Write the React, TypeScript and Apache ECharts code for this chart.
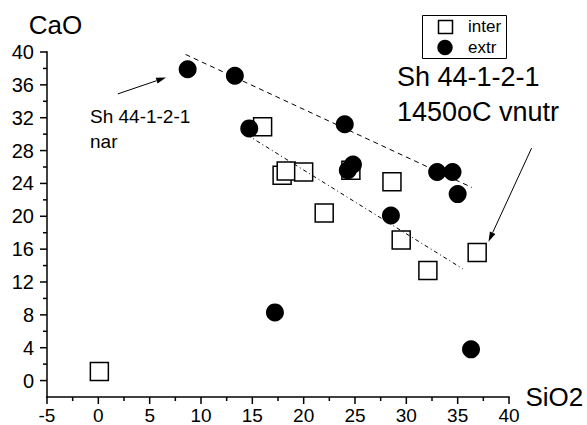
import React, { useEffect, useRef } from "react";
import * as echarts from "echarts";

// ---- data ----
const interPoints: number[][] = [
  [0.1, 1.1], [16.0, 30.9], [17.9, 25.0], [18.3, 25.5], [20.0, 25.4],
  [24.6, 25.6], [22.0, 20.4], [28.6, 24.2], [29.5, 17.1], [32.1, 13.4], [36.9, 15.6],
];
const extrPoints: number[][] = [
  [8.7, 37.9], [13.3, 37.1], [14.7, 30.7], [24.0, 31.2], [24.3, 25.6], [24.8, 26.3],
  [28.5, 20.1], [33.0, 25.4], [34.5, 25.4], [35.0, 22.7], [17.2, 8.3], [36.3, 3.8],
];
const trendUpper: number[][] = [[8.5, 39.7], [36.4, 23.5]];
const trendLower: number[][] = [[14.5, 29.9], [35.5, 13.6]];
const arrowNar: number[][] = [[1.9, 34.9], [6.6, 36.9]];
const arrowVnutr: number[][] = [[42.2, 28.3], [38.0, 16.9]];
const X_MIN = -5;
const X_MAX = 40;
const Y_MIN = -2;
const Y_MAX = 40;
const xMajorTicks = [-5, 0, 5, 10, 15, 20, 25, 30, 35, 40];
const xMinorTicks = [-2.5, 2.5, 7.5, 12.5, 17.5, 22.5, 27.5, 32.5, 37.5];
const yMajorTicks = [0, 4, 8, 12, 16, 20, 24, 28, 32, 36, 40];
const yMinorTicks = [2, 6, 10, 14, 18, 22, 26, 30, 34, 38];
const legendNames = ["inter", "extr"];
const noteNar = "Sh 44-1-2-1\nnar";
const noteVnutr = "Sh 44-1-2-1\n1450oC vnutr";

const FONT = 'Arial, "Liberation Sans", sans-serif';

export default function App() {
  const ref = useRef<HTMLDivElement>(null);
  useEffect(() => {
    if (!ref.current) return;
    const chart = echarts.init(ref.current, undefined, { renderer: "svg" });
    chart.setOption({
      animation: false,
      grid: { left: 47, right: 78, top: 52, bottom: 28, containLabel: false, outerBoundsMode: "none" },
      xAxis: {
        type: "value",
        min: X_MIN,
        max: X_MAX,
        interval: 5,
        name: "SiO2",
        nameLocation: "end",
        nameGap: 16,
        nameTextStyle: { fontSize: 26, color: "#000", fontFamily: FONT, padding: [8, 0, 0, 0] },
        axisLine: { show: false, onZero: false },
        axisTick: { show: false },
        minorTick: { show: false },
        axisLabel: { fontSize: 19, color: "#000", fontFamily: FONT, margin: 9, customValues: xMajorTicks },
        splitLine: { show: false },
      },
      yAxis: {
        type: "value",
        min: Y_MIN,
        max: Y_MAX,
        interval: 2,
        name: "CaO",
        nameLocation: "end",
        nameGap: 14,
        nameTextStyle: { fontSize: 26, color: "#000", fontFamily: FONT, padding: [0, 0, 0, 17] },
        axisLine: { show: false, onZero: false },
        axisTick: { show: false },
        axisLabel: { fontSize: 20, color: "#000", fontFamily: FONT, margin: 13, customValues: yMajorTicks },
        splitLine: { show: false },
      },
      series: [
        {
          name: legendNames[0],
          type: "scatter",
          data: interPoints,
          symbol: "rect",
          symbolSize: 18,
          itemStyle: { color: "#fff", borderColor: "#000", borderWidth: 1.5, opacity: 1 },
          z: 2,
        },
        {
          type: "line",
          data: trendUpper,
          showSymbol: false,
          symbol: "none",
          lineStyle: { color: "#000", width: 1, type: [5, 4] },
          z: 3,
        },
        {
          type: "line",
          data: trendLower,
          showSymbol: false,
          symbol: "none",
          lineStyle: { color: "#000", width: 1, type: [4, 3, 1, 3] },
          z: 3,
        },
        {
          name: legendNames[1],
          type: "scatter",
          data: extrPoints,
          symbol: "circle",
          symbolSize: 18,
          itemStyle: { color: "#000", opacity: 1 },
          z: 4,
        },
      ],
    });

    const toPx = (p: number[]) => chart.convertToPixel({ gridIndex: 0 }, p) as number[];
    const W = 1.5;
    // axis parts drawn as thin filled rectangles
    const bar = (x: number, y: number, w: number, h: number) => ({
      type: "rect",
      shape: { x, y, width: w, height: h },
      style: { fill: "#000" },
      z: 12,
    });
    const arrow = (pts: number[][]) => {
      const a = toPx(pts[0]);
      const b = toPx(pts[1]);
      const dx = b[0] - a[0];
      const dy = b[1] - a[1];
      const len = Math.hypot(dx, dy);
      const ux = dx / len;
      const uy = dy / len;
      const hl = 10;
      const hw = 3;
      const bx = b[0] - ux * hl;
      const by = b[1] - uy * hl;
      return [
        { type: "line", shape: { x1: a[0], y1: a[1], x2: bx, y2: by }, style: { stroke: "#000", lineWidth: 1 }, z: 12 },
        {
          type: "polygon",
          shape: { points: [[b[0], b[1]], [bx - uy * hw, by + ux * hw], [bx + uy * hw, by - ux * hw]] },
          style: { fill: "#000" },
          z: 12,
        },
      ];
    };
    const origin = toPx([X_MIN, Y_MIN]);
    const xEnd = toPx([X_MAX, Y_MIN]);
    const yEnd = toPx([X_MIN, Y_MAX]);
    const axes = [
      bar(origin[0] - W / 2, origin[1] - W / 2, xEnd[0] - origin[0] + W, W),
      bar(origin[0] - W / 2, yEnd[1] - W / 2, W, origin[1] - yEnd[1] + W),
      ...xMajorTicks.map((v) => {
        const p = toPx([v, Y_MIN]);
        return bar(p[0] - W / 2, p[1], W, 7);
      }),
      ...xMinorTicks.map((v) => {
        const p = toPx([v, Y_MIN]);
        return bar(p[0] - W / 2, p[1], W, 4);
      }),
      ...yMajorTicks.map((v) => {
        const p = toPx([X_MIN, v]);
        return bar(p[0] - 7, p[1] - W / 2, 7, W);
      }),
      ...yMinorTicks.map((v) => {
        const p = toPx([X_MIN, v]);
        return bar(p[0] - 4, p[1] - W / 2, 4, W);
      }),
    ];

    chart.setOption({
      graphic: [
        ...axes,
        ...arrow(arrowNar),
        ...arrow(arrowVnutr),
        {
          type: "rect",
          shape: { x: 422.5, y: 15.5, width: 84, height: 43 },
          style: { fill: "#fff", stroke: "#000", lineWidth: 1 },
          z: 10,
        },
        {
          type: "rect",
          shape: { x: 438.5, y: 20.5, width: 14, height: 13 },
          style: { fill: "#fff", stroke: "#000", lineWidth: 1.5 },
          z: 11,
        },
        {
          type: "circle",
          shape: { cx: 445, cy: 47.5, r: 7.7 },
          style: { fill: "#000" },
          z: 11,
        },
        {
          type: "text",
          x: 468,
          y: 26.5,
          style: { text: legendNames[0], fontSize: 17, fontFamily: FONT, fill: "#000", verticalAlign: "middle" },
          z: 11,
        },
        {
          type: "text",
          x: 468,
          y: 47.5,
          style: { text: legendNames[1], fontSize: 17, fontFamily: FONT, fill: "#000", verticalAlign: "middle" },
          z: 11,
        },
        {
          type: "text",
          x: 397,
          y: 60,
          style: { text: noteVnutr, fontSize: 27, lineHeight: 34.5, fontFamily: FONT, fill: "#000", verticalAlign: "top" },
          z: 11,
        },
        {
          type: "text",
          x: 90,
          y: 104,
          style: { text: noteNar, fontSize: 19, lineHeight: 25, fontFamily: FONT, fill: "#000", verticalAlign: "top" },
          z: 11,
        },
      ],
    });
    return () => chart.dispose();
  }, []);
  return (
    <div
      ref={ref}
      style={{ position: "absolute", left: 0, top: 0, width: 587, height: 425, background: "#fff" }}
    />
  );
}
